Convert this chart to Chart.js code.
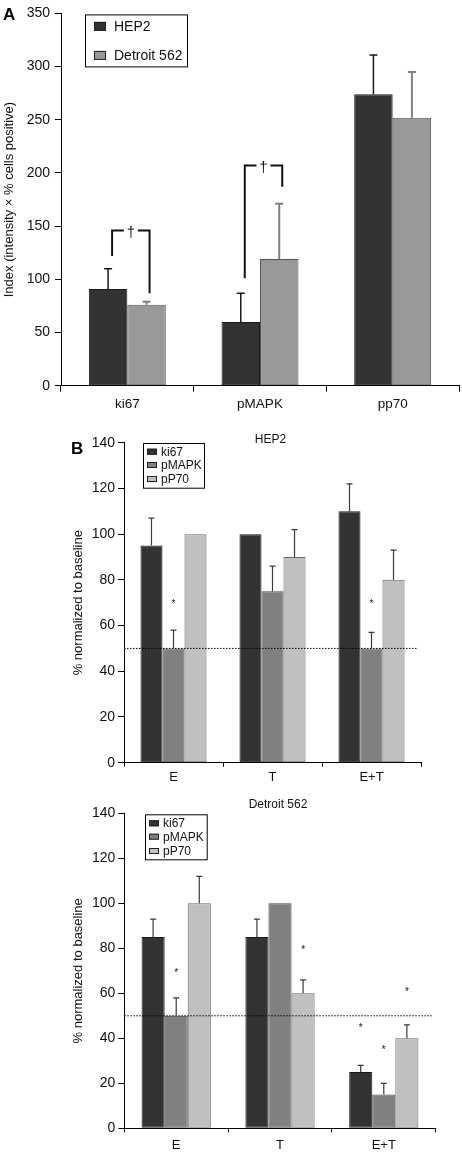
<!DOCTYPE html>
<html>
<head>
<meta charset="utf-8">
<script src="https://cdn.jsdelivr.net/npm/chart.js@4.4.0/dist/chart.umd.min.js"></script>
<style>
  html, body { margin: 0; padding: 0; background: #fff; }
  body { width: 462px; height: 1152px; position: relative; overflow: hidden; }
  .panel { position: absolute; left: 0; width: 462px; }
</style>
</head>
<body>
<div class="panel" style="top:0;height:420px"><canvas id="chartA"></canvas></div>
<div class="panel" style="top:430px;height:360px"><canvas id="chartB1"></canvas></div>
<div class="panel" style="top:795px;height:357px"><canvas id="chartB2"></canvas></div>
<script>
// ---- panel A data ----
const markers = ['ki67', 'pMAPK', 'pp70'];
const hep2Index = [91, 60, 274];
const hep2IndexTop = [110, 87, 311];      // top of error bar
const detroitIndex = [76, 119, 252];
const detroitIndexTop = [79, 171, 295];
const indexTicks = { min: 0, max: 350, step: 50 };
const daggerBrackets = [
  { index: 0, leftFrom: 122, top: 146, rightTo: 87 },
  { index: 1, leftFrom: 101, top: 207, rightTo: 187 }
];

// ---- panel B data ----
const treatments = ['E', 'T', 'E+T'];
const pctTicks = { min: 0, max: 140, step: 20 };
const baseline = 50;

const hep2Ki67 = [95, 100, 110];
const hep2Ki67Top = [107, null, 122];
const hep2Pmapk = [50, 75, 50];
const hep2PmapkTop = [58, 86, 57];
const hep2Pp70 = [100, 90, 80];
const hep2Pp70Top = [null, 102, 93];
// [dataset, category, value]
const hep2Stars = [[1, 0, 70], [1, 2, 70]];

const detKi67 = [85, 85, 25];
const detKi67Top = [93, 93, 28];
const detPmapk = [50, 100, 15];
const detPmapkTop = [58, null, 20];
const detPp70 = [100, 60, 40];
const detPp70Top = [112, 66, 46];
const detStars = [[1, 0, 70], [2, 1, 80], [0, 2, 45.5], [1, 2, 35.5], [2, 2, 61.5]];

const FONT = 'Arial, "Liberation Sans", Helvetica, sans-serif';
Chart.defaults.font.family = FONT;
Chart.defaults.color = '#111';

const extras = {
  id: 'extras',
  afterDatasetsDraw(chart, args, opts) {
    const ctx = chart.ctx, area = chart.chartArea;
    const ys = chart.scales.y;
    ctx.save();

    if (opts.refLine != null) {
      const yy = ys.getPixelForValue(opts.refLine);
      ctx.strokeStyle = '#000';
      ctx.lineWidth = 1;
      ctx.setLineDash([1.5, 1.5]);
      ctx.beginPath();
      ctx.moveTo(area.left, yy);
      ctx.lineTo(area.right - 4, yy);
      ctx.stroke();
      ctx.setLineDash([]);
    }

    (opts.errors || []).forEach((tops, di) => {
      const meta = chart.getDatasetMeta(di);
      const st = opts.errStyle[di];
      tops.forEach((top, i) => {
        if (top == null) return;
        const bar = meta.data[i];
        const yt = ys.getPixelForValue(top);
        ctx.strokeStyle = st.color;
        ctx.lineWidth = st.width;
        ctx.beginPath();
        ctx.moveTo(bar.x, bar.y);
        ctx.lineTo(bar.x, yt);
        ctx.moveTo(bar.x - st.cap, yt);
        ctx.lineTo(bar.x + st.cap, yt);
        ctx.stroke();
      });
    });

    ctx.fillStyle = '#111';
    ctx.textAlign = 'center';
    ctx.textBaseline = 'middle';
    ctx.font = '10px ' + FONT;
    (opts.stars || []).forEach(([di, i, v]) => {
      const bar = chart.getDatasetMeta(di).data[i];
      ctx.fillText('*', bar.x, ys.getPixelForValue(v) + 2);
    });

    (opts.brackets || []).forEach(b => {
      const xl = chart.getDatasetMeta(0).data[b.index].x + 4;
      const xr = chart.getDatasetMeta(1).data[b.index].x + 3;
      const yt = ys.getPixelForValue(b.top);
      const mid = (xl + xr) / 2;
      ctx.strokeStyle = '#111';
      ctx.lineWidth = 2;
      ctx.beginPath();
      ctx.moveTo(xl, ys.getPixelForValue(b.leftFrom));
      ctx.lineTo(xl, yt);
      ctx.lineTo(mid - 7, yt);
      ctx.moveTo(mid + 7, yt);
      ctx.lineTo(xr, yt);
      ctx.lineTo(xr, ys.getPixelForValue(b.rightTo));
      ctx.stroke();
      ctx.font = '15px ' + FONT;
      ctx.fillText('\u2020', mid, yt + 2);
    });
    ctx.restore();
  },
  afterDraw(chart, args, opts) {
    const ctx = chart.ctx, area = chart.chartArea;
    ctx.save();
    if (opts.panelLabel) {
      const p = opts.panelLabel;
      ctx.font = 'bold 17px ' + FONT;
      ctx.fillStyle = '#000';
      ctx.textAlign = 'left';
      ctx.textBaseline = 'alphabetic';
      ctx.fillText(p.text, p.x, p.y);
    }
    if (opts.title) {
      ctx.font = '12px ' + FONT;
      ctx.fillStyle = '#111';
      ctx.textAlign = 'center';
      ctx.textBaseline = 'middle';
      ctx.fillText(opts.title.text, (area.left + area.right) / 2 - 2, area.top + opts.title.dy);
    }
    if (opts.legend) {
      const L = opts.legend;
      const bx = area.left + L.x, by = area.top + L.y;
      ctx.fillStyle = '#fff';
      ctx.fillRect(bx, by, L.w, L.h);
      ctx.strokeStyle = '#000';
      ctx.lineWidth = 1;
      ctx.strokeRect(bx + 0.5, by + 0.5, L.w, L.h);
      ctx.font = L.font + 'px ' + FONT;
      ctx.textAlign = 'left';
      ctx.textBaseline = 'middle';
      chart.data.datasets.forEach((ds, i) => {
        const cy = by + L.rows[i];
        ctx.fillStyle = ds.backgroundColor;
        ctx.fillRect(bx + L.sx, cy - L.sh / 2, L.sw, L.sh);
        ctx.strokeStyle = '#222';
        ctx.strokeRect(bx + L.sx + 0.5, cy - L.sh / 2 + 0.5, L.sw - 1, L.sh - 1);
        ctx.fillStyle = '#111';
        ctx.fillText(ds.label, bx + L.tx, cy + 0.5);
      });
    }
    ctx.restore();
  }
};

function axes(cfg) {
  return {
    x: {
      grid: { drawOnChartArea: false, color: '#000', tickLength: cfg.xTick, offset: true },
      border: { color: '#000', width: 1 },
      ticks: { color: '#111', font: { size: cfg.xFont }, padding: cfg.xPad },
      afterFit: s => { s.height = cfg.xHeight; }
    },
    y: {
      min: cfg.ticks.min, max: cfg.ticks.max,
      grid: { drawOnChartArea: false, color: '#000', tickLength: 6 },
      border: { color: '#000', width: 1 },
      ticks: { stepSize: cfg.ticks.step, color: '#111', font: { size: 14 }, padding: cfg.yPad },
      title: { display: true, text: cfg.yTitle, color: '#111', font: { size: 13 }, padding: { top: cfg.titlePad, bottom: 0 } },
      afterFit: s => { s.width = cfg.yWidth; }
    }
  };
}

const barBase = { borderWidth: 1, borderSkipped: false };

new Chart(document.getElementById('chartA'), {
  type: 'bar',
  data: {
    labels: markers,
    datasets: [
      Object.assign({ label: 'HEP2', data: hep2Index, backgroundColor: '#333333', borderColor: '#1a1a1a' }, barBase),
      Object.assign({ label: 'Detroit 562', data: detroitIndex, backgroundColor: '#999999', borderColor: '#555555' }, barBase)
    ]
  },
  options: {
    responsive: true, maintainAspectRatio: false, animation: false,
    categoryPercentage: 0.58, barPercentage: 1,
    layout: { padding: { top: 12, right: 3, left: 0, bottom: 0 } },
    scales: axes({ xTick: 6, xFont: 13.5, xPad: 4, xHeight: 34.3, ticks: indexTicks, yPad: 5,
      yTitle: 'Index (intensity \u00d7 % cells positive)', titlePad: 1.7, yWidth: 61 }),
    plugins: {
      legend: { display: false }, tooltip: { enabled: false },
      extras: {
        panelLabel: { text: 'A', x: 3, y: 20 },
        errors: [hep2IndexTop, detroitIndexTop],
        errStyle: [{ color: '#1a1a1a', width: 1.5, cap: 4 }, { color: '#808080', width: 2, cap: 4 }],
        brackets: daggerBrackets,
        legend: { x: 24, y: 1, w: 102, h: 52, rows: [12, 41], sx: 9, sw: 12, sh: 9, tx: 29, font: 14 }
      }
    }
  },
  plugins: [extras]
});

function panelB(id, title, sets, tops, stars, geo) {
  const colors = [['#333333', '#1a1a1a'], ['#808080', '#444444'], ['#c0c0c0', '#666666']];
  const names = ['ki67', 'pMAPK', 'pP70'];
  new Chart(document.getElementById(id), {
    type: 'bar',
    data: {
      labels: treatments,
      datasets: sets.map((d, i) => Object.assign({ label: names[i], data: d, backgroundColor: colors[i][0], borderColor: colors[i][1] }, barBase))
    },
    options: {
      responsive: true, maintainAspectRatio: false, animation: false,
      categoryPercentage: 0.667, barPercentage: 1,
      layout: { padding: { top: geo.top, right: geo.right, left: 0, bottom: 0 } },
      scales: axes({ xTick: 4, xFont: 13, xPad: geo.xPad, xHeight: geo.xHeight, ticks: pctTicks, yPad: 3,
        yTitle: '% normalized to baseline', titlePad: 70.2, yWidth: geo.yWidth }),
      plugins: {
        legend: { display: false }, tooltip: { enabled: false },
        extras: {
          panelLabel: geo.label,
          title: { text: title, dy: geo.titleDy },
          refLine: baseline,
          errors: tops,
          errStyle: [0, 1, 2].map(() => ({ color: '#3a3a3a', width: 1.2, cap: 3 })),
          stars: stars,
          legend: geo.legend
        }
      }
    },
    plugins: [extras]
  });
}

panelB('chartB1', 'HEP2', [hep2Ki67, hep2Pmapk, hep2Pp70], [hep2Ki67Top, hep2PmapkTop, hep2Pp70Top], hep2Stars, {
  top: 12.7, right: 41, yWidth: 124, xHeight: 27.3, xPad: 3, titleDy: -3,
  label: { text: 'B', x: 71, y: 24 },
  legend: { x: 19, y: 0.3, w: 61, h: 44.7, rows: [8.7, 22, 36], sx: 4, sw: 10, sh: 6, tx: 18, font: 12 }
});

panelB('chartB2', 'Detroit 562', [detKi67, detPmapk, detPp70], [detKi67Top, detPmapkTop, detPp70Top], detStars, {
  top: 18.3, right: 26.3, yWidth: 124.3, xHeight: 23.7, xPad: 5, titleDy: -9,
  label: null,
  legend: { x: 20.7, y: 1, w: 61.7, h: 45, rows: [9, 22.4, 36.7], sx: 4, sw: 10, sh: 6, tx: 18, font: 12 }
});
</script>
</body>
</html>
